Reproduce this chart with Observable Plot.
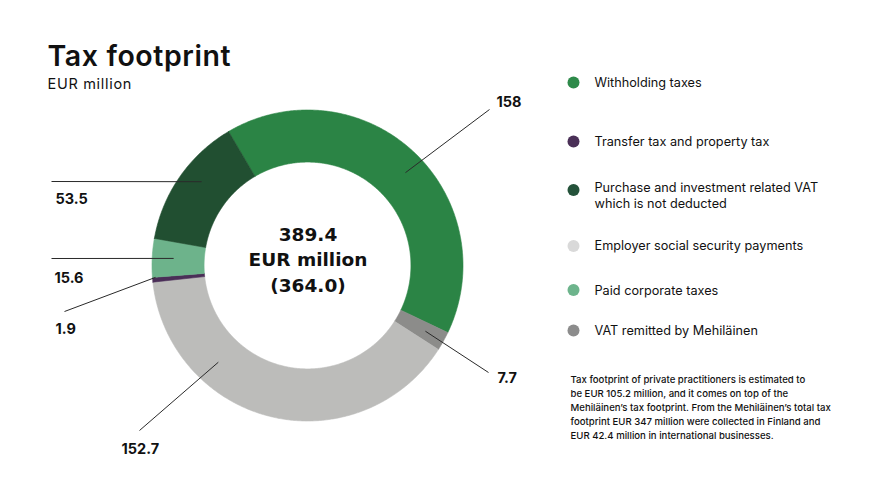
<!DOCTYPE html>
<html>
<head>
<meta charset="utf-8">
<script src="https://cdn.jsdelivr.net/npm/d3@7"></script>
<script src="https://cdn.jsdelivr.net/npm/@observablehq/plot@0.6"></script>
<style>
  html, body { margin: 0; padding: 0; background: #fff; }
  #chart { width: 870px; height: 490px; }
  #chart svg { display: block; font-family: Inter, "Noto Sans", sans-serif; }
  g[aria-description="title"] text { letter-spacing: 0.6px; }
  g[aria-description="subtitle"] text { letter-spacing: 0.7px; }
</style>
</head>
<body>
<div id="chart"></div>
<script>
// ---------------- DATA ----------------
const categories = [
  "Withholding taxes",
  "VAT remitted by Mehiläinen",
  "Employer social security payments",
  "Transfer tax and property tax",
  "Paid corporate taxes",
  "Purchase and investment related VAT which is not deducted"
];
const values = [158, 7.7, 152.7, 1.9, 15.6, 53.5];
const valueLabels = ["158", "7.7", "152.7", "1.9", "15.6", "53.5"];
const legendOrder = [
  "Withholding taxes",
  "Transfer tax and property tax",
  "Purchase and investment related VAT which is not deducted",
  "Employer social security payments",
  "Paid corporate taxes",
  "VAT remitted by Mehiläinen"
];
const legendLines = [
  ["Withholding taxes"],
  ["Transfer tax and property tax"],
  ["Purchase and investment related VAT", "which is not deducted"],
  ["Employer social security payments"],
  ["Paid corporate taxes"],
  ["VAT remitted by Mehiläinen"]
];
const centerLines = ["389.4", "EUR million", "(364.0)"];
const titleText = "Tax footprint";
const subtitleText = "EUR million";
const footnoteLines = [
  "Tax footprint of private practitioners is estimated to",
  "be EUR 105.2 million, and it comes on top of the",
  "Mehiläinen’s tax footprint. From the Mehiläinen’s total tax",
  "footprint EUR 347 million were collected in Finland and",
  "EUR 42.4 million in international businesses."
];

// ---------------- STYLE / LAYOUT ----------------
const sliceColors = ["#2b8445", "#8c8c8a", "#bcbcba", "#4a2e57", "#6db38b", "#214f31"];
const legendColors = {
  "Withholding taxes": "#2e8a4a",
  "Transfer tax and property tax": "#4a3057",
  "Purchase and investment related VAT which is not deducted": "#24523a",
  "Employer social security payments": "#d9d9d9",
  "Paid corporate taxes": "#6db48c",
  "VAT remitted by Mehiläinen": "#8c8c8c"
};
const W = 870, H = 490;
const CX = 307, CY = 265, R = 155.5;   // donut centre and outer radius (px)
const INNER = 0.665;                    // inner radius as fraction
const START = -30.5;                    // degrees, clockwise from top
// px -> data units
const X = px => (px - CX) / R;
const Y = py => (CY - py) / R;
// leader line layout per category: anchor radius, angle shift, end px, label px (baseline)
const leader = {
  "Withholding taxes": {r: 0.868, da: 4, end: [489, 109], lab: [496, 106]},
  "VAT remitted by Mehiläinen": {r: 0.868, da: 0, end: [488, 372], lab: [497, 382]},
  "Employer social security payments": {r: 0.846, da: 29.4, end: [139, 430], lab: [121, 453]},
  "Transfer tax and property tax": {r: 0.98, da: 0.8, end: [64, 311], lab: [55, 333]},
  "Paid corporate taxes": {r: 0.862, da: 0.2, end: [51, 258], lab: [54, 282]},
  "Purchase and investment related VAT which is not deducted": {r: 0.868, da: 3.6, end: [51, 181], lab: [55, 203]}
};

// ---------------- GEOMETRY from data ----------------
const total = d3.sum(values);
const ends = d3.cumsum(values);
const slices = categories.map((c, i) => {
  const a0 = START + (ends[i] - values[i]) / total * 360;
  const a1 = START + ends[i] / total * 360;
  return {name: c, value: values[i], label: valueLabels[i], a0, a1, mid: (a0 + a1) / 2};
});
const rad = a => a * Math.PI / 180;
const polar = (a, r) => [Math.sin(rad(a)) * r, Math.cos(rad(a)) * r];
const ring = [];
for (const s of slices) {
  const n = Math.max(2, Math.ceil((s.a1 - s.a0) / 0.5));
  const pts = [];
  for (let k = 0; k <= n; k++) pts.push(polar(s.a0 + (s.a1 - s.a0) * k / n, 1));
  for (let k = n; k >= 0; k--) pts.push(polar(s.a0 + (s.a1 - s.a0) * k / n, INNER));
  pts.push(pts[0]);
  for (const [x, y] of pts) ring.push({name: s.name, x, y});
}
const links = slices.map(s => {
  const L = leader[s.name];
  const [x1, y1] = polar(s.mid + L.da, L.r);
  return {name: s.name, label: s.label, x1, y1, x2: X(L.end[0]), y2: Y(L.end[1]), lx: X(L.lab[0]), ly: Y(L.lab[1])};
});

// legend rows
const legendDotY = [82, 141, 189.5, 245.5, 289.5, 330];
const legendBase = [86, 145, 191.5, 249.5, 294, 334];
const legendDots = legendOrder.map((name, i) => ({name, x: X(573), y: Y(legendDotY[i]), color: legendColors[name]}));
const legendTexts = [];
legendOrder.forEach((name, i) => legendLines[i].forEach((t, j) => legendTexts.push({t, x: X(594), y: Y(legendBase[i] + j * 16)})));

const centerData = centerLines.map((t, i) => ({t, x: X(307.5), y: Y(240 + i * 25.5)}));
const footData = footnoteLines.map((t, i) => ({t, x: X(570), y: Y(382 + i * 14)}));

const plot = Plot.plot({
  width: W, height: H,
  margin: 0,
  x: {domain: [X(0), X(W)], range: [0, W], axis: null},
  y: {domain: [Y(H), Y(0)], range: [H, 0], axis: null},
  color: {domain: categories, range: sliceColors},
  marks: [
    Plot.line(ring, {x: "x", y: "y", z: "name", fill: "name", stroke: "name", strokeWidth: 0.6, curve: "linear"}),
    Plot.link(links, {x1: "x1", y1: "y1", x2: "x2", y2: "y2", stroke: "#2a2a2a", strokeWidth: 1}),
    Plot.text(links, {x: "lx", y: "ly", text: "label", textAnchor: "start", lineAnchor: "bottom", fontSize: 14.5, fontWeight: 700, fill: "#111"}),
    Plot.text(centerData, {x: "x", y: "y", text: "t", textAnchor: "middle", lineAnchor: "bottom", fontSize: 18.5, fontWeight: 700, fontFamily: "DejaVu Sans", fill: "#111"}),
    Plot.text([titleText], {x: X(47), y: Y(65), text: d => d, textAnchor: "start", lineAnchor: "bottom", fontSize: 28.5, fontWeight: 600, fill: "#111", ariaDescription: "title"}),
    Plot.text([subtitleText], {x: X(47), y: Y(88), text: d => d, textAnchor: "start", lineAnchor: "bottom", fontSize: 14.5, fontWeight: 400, fill: "#111", ariaDescription: "subtitle"}),
    Plot.dot(legendDots, {x: "x", y: "y", r: 6, fill: "color", stroke: "none"}),
    Plot.text(legendTexts, {x: "x", y: "y", text: "t", textAnchor: "start", lineAnchor: "bottom", fontSize: 12.7, fill: "#111"}),
    Plot.text(footData, {x: "x", y: "y", text: "t", textAnchor: "start", lineAnchor: "bottom", fontSize: 9.6, fontWeight: 500, fill: "#111"})
  ]
});
document.getElementById("chart").append(plot);
</script>
</body>
</html>
